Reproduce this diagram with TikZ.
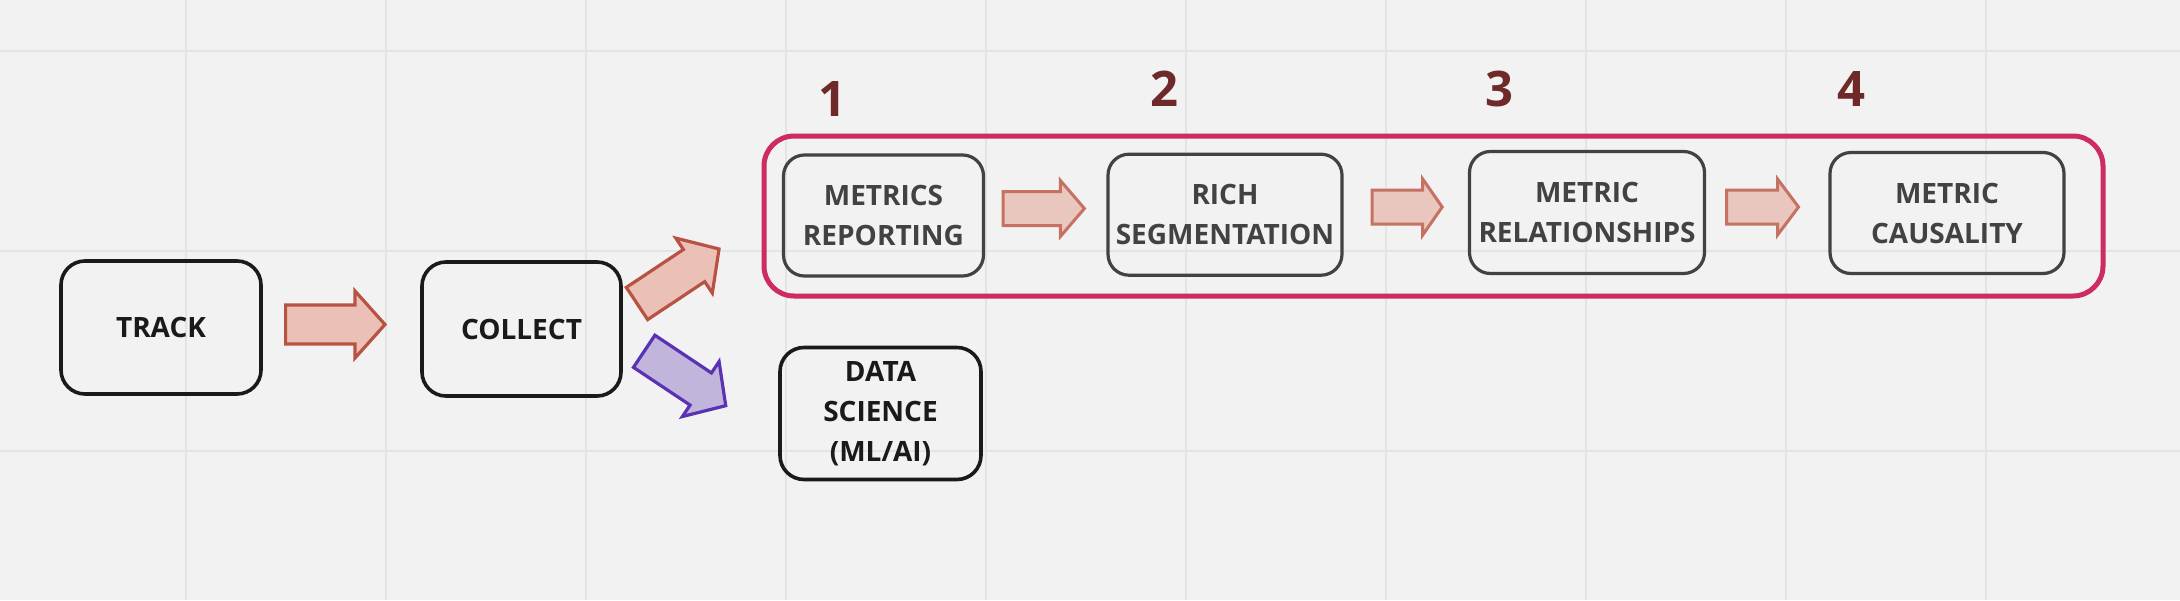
\documentclass[tikz,border=0pt]{standalone}
\usepackage{fontspec}
\setmainfont{Open Sans}
\definecolor{bg}{HTML}{F2F2F2}
\definecolor{gridc}{HTML}{E4E4E4}
\definecolor{ink}{HTML}{1A1A1A}
\definecolor{inkgray}{HTML}{424242}
\definecolor{magentab}{HTML}{CC2B63}
\definecolor{numc}{HTML}{6E2A28}
\definecolor{redfill}{HTML}{EBC0B6}
\definecolor{redline}{HTML}{B85243}
\definecolor{lredfill}{HTML}{E9C6BE}
\definecolor{lredline}{HTML}{C57263}
\definecolor{purfill}{HTML}{C2B5DB}
\definecolor{purline}{HTML}{5A32B4}
\newcommand\BlockArrow[7]{%
  \draw[#1, shift={#2}, rotate=#3] (0,-#5) -- ({#4-#7},-#5) -- ({#4-#7},-#6) -- (#4,0)
    -- ({#4-#7},#6) -- ({#4-#7},#5) -- (0,#5) -- cycle;}
\begin{document}
\begin{tikzpicture}[x=1pt,y=-1pt,
  gridline/.style={draw=gridc, line width=2pt},
  darkbox/.style={draw=ink, line width=3.6pt, rounded corners=24pt, inner sep=0pt,
    align=center, text=ink, font=\fontsize{28}{40}\selectfont\bfseries},
  graybox/.style={draw=inkgray, line width=3.2pt, rounded corners=21pt, inner sep=0pt,
    align=center, text=inkgray, font=\fontsize{28}{40}\selectfont\bfseries},
  container/.style={draw=magentab, line width=5pt, rounded corners=30pt, inner sep=0pt},
  numlabel/.style={text=numc, font=\fontsize{49}{50}\selectfont\bfseries, inner sep=0pt},
  bigred/.style={draw=redline, fill=redfill, line width=3.2pt, line join=miter},
  smallred/.style={draw=lredline, fill=lredfill, line width=3pt, line join=miter},
  purplearrow/.style={draw=purline, fill=purfill, line width=3.2pt, line join=miter}]
\fill[bg] (0,0) rectangle (2180,600);
\useasboundingbox (0,0) rectangle (2180,600);
\foreach \x in {185.5,385.5,...,1985.5} \draw[gridline] (\x,0) -- (\x,600);
\foreach \y in {51,251,451} \draw[gridline] (0,\y) -- (2180,\y);

\node[container, minimum width=1339, minimum height=160] (group) at (1433.5,216) {};

\node[darkbox, minimum width=200, minimum height=133] (track) at (161,327.5) {TRACK};
\node[darkbox, minimum width=199, minimum height=134] (collect) at (521.5,329) {COLLECT};
\node[darkbox, minimum width=201, minimum height=132] (data) at (880.5,413.5) {DATA\\SCIENCE\\(ML/AI)};

\node[graybox, minimum width=200, minimum height=121] (mr) at (883.5,215.5) {METRICS\\REPORTING};
\node[graybox, minimum width=234, minimum height=121] (rs) at (1225,214.7) {RICH\\SEGMENTATION};
\node[graybox, minimum width=235, minimum height=122] (rel) at (1587,212.5) {METRIC\\RELATIONSHIPS};
\node[graybox, minimum width=234, minimum height=121] (caus) at (1947,213) {METRIC\\CAUSALITY};

\node[numlabel] (n1) at (832.5,99) {1};
\node[numlabel] (n2) at (1164,88.5) {2};
\node[numlabel] (n3) at (1499.5,89) {3};
\node[numlabel] (n4) at (1851,89) {4};

\BlockArrow{bigred}{(285.6,324.5)}{0}{99.4}{19.5}{33.5}{30}
\BlockArrow{bigred}{(637,303.5)}{33.6}{98.5}{19.3}{33}{30}
\BlockArrow{purplearrow}{(644.2,351.3)}{-33.7}{98}{19.3}{33}{30}
\BlockArrow{smallred}{(1003,208.5)}{0}{81.4}{17}{28}{24}
\BlockArrow{smallred}{(1372.2,207)}{0}{70}{17}{28}{19.5}
\BlockArrow{smallred}{(1726.5,207)}{0}{72}{17}{28}{21}
\end{tikzpicture}
\end{document}
